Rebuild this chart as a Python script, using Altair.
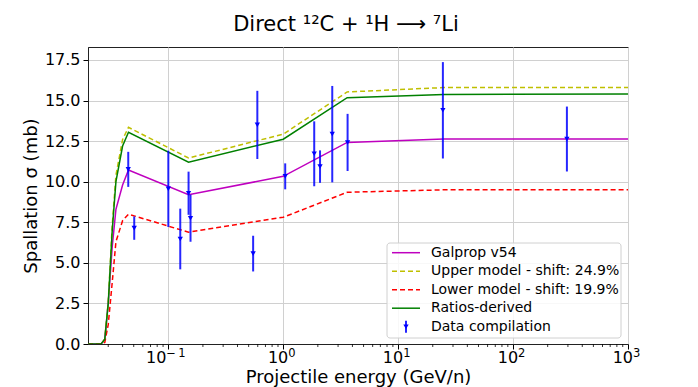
import altair as alt
import pandas as pd

# ---- data ----
E_model = [0.02, 0.026, 0.028, 0.030, 0.0325, 0.035, 0.04, 0.045, 0.15, 1.0, 3.6, 25, 1000]
galprop = [0, 0, 0.3, 2.5, 6.0, 8.3, 9.8, 10.72, 9.2, 10.33, 12.42, 12.63, 12.63]
upper   = [0, 0, 0.3, 2.6, 7.3, 10.4, 12.6, 13.35, 11.46, 12.93, 15.53, 15.8, 15.8]
lower   = [0, 0, 0.1, 1.2, 3.8, 6.3, 7.6, 8.0, 6.89, 7.81, 9.35, 9.5, 9.5]
ratios  = [0, 0, 0.3, 2.5, 7.0, 10.0, 12.2, 13.05, 11.2, 12.62, 15.18, 15.38, 15.4]

E_data = [0.0448, 0.0505, 0.100, 0.127, 0.150, 0.156, 0.547, 0.595, 1.04, 1.86, 2.09, 2.67, 3.63, 24.5, 294]
sigma  = [10.76, 7.14, 9.56, 6.47, 9.29, 7.75, 5.57, 13.5, 10.33, 11.72, 10.93, 12.93, 12.42, 14.4, 12.63]
err    = [1.08, 0.72, 2.35, 1.87, 1.33, 1.45, 1.1, 2.1, 0.8, 2.0, 1.0, 2.97, 1.76, 2.97, 2.0]

minor_ticks = [m * 10.0 ** d for d in range(-2, 3) for m in range(2, 10)]
x_ticks = [0.1, 1, 10, 100, 1000]
x_tick_base = ["10", "10", "10", "10", "10"]
x_tick_exp = ["\u2212\u20091", "0", "1", "2", "3"]
y_ticks = [0, 2.5, 5, 7.5, 10, 12.5, 15, 17.5]

legend_labels = ["Galprop v54", "Upper model - shift: 24.9%", "Lower model - shift: 19.9%",
                 "Ratios-derived", "Data compilation"]
series_colors = ["#bf00bf", "#bfbf00", "#ff0000", "#008000", "#0000ff"]

W, H = 540, 297
xscale = alt.Scale(type="log", domain=[0.02, 1000], nice=False)
yscale = alt.Scale(domain=[0, 18.3], nice=False)

xaxis = alt.Axis(values=x_ticks, labels=False, title="Projectile energy (GeV/n)",
                 grid=True, tickSize=5, titleFontSize=18,
                 titleBaseline="alphabetic", titleY=38.3)
yaxis = alt.Axis(values=y_ticks, format=".1f", title="Spallation \u03c3 (mb)",
                 grid=True, tickSize=5, labelFontSize=16, titleFontSize=18,
                 labelPadding=3, titleBaseline="alphabetic", titleX=-52)

models = [(galprop, series_colors[0], None),
          (upper, series_colors[1], [5, 3]),
          (lower, series_colors[2], [5, 3]),
          (ratios, series_colors[3], None)]

layers = []
# minor ticks on the log axis
minor_df = pd.DataFrame({"E": minor_ticks})
minor_df = minor_df[(minor_df.E > 0.02) & (minor_df.E < 1000)]
layers.append(alt.Chart(minor_df).mark_rule(color="black", strokeWidth=0.8).encode(
    x=alt.X("E:Q", scale=xscale, axis=xaxis), y=alt.value(H), y2=alt.value(H + 3)))

for vals, col, dash in models:
    df = pd.DataFrame({"E": E_model, "sigma": vals})
    kw = dict(color=col, strokeWidth=1.5, clip=True)
    if dash:
        kw["strokeDash"] = dash
    layers.append(alt.Chart(df).mark_line(**kw).encode(
        x=alt.X("E:Q", scale=xscale, axis=xaxis),
        y=alt.Y("sigma:Q", scale=yscale, axis=yaxis)))

ddf = pd.DataFrame({"E": E_data, "sigma": sigma, "err": err})
ddf["lo"] = ddf.sigma - ddf.err
ddf["hi"] = ddf.sigma + ddf.err
layers.append(alt.Chart(ddf).mark_rule(color="#0000ff", strokeWidth=2, opacity=0.85).encode(
    x=alt.X("E:Q", scale=xscale), y=alt.Y("lo:Q", scale=yscale), y2="hi:Q"))
layers.append(alt.Chart(ddf).mark_point(shape="triangle-down", filled=True, color="#0000ff",
                                        size=28, opacity=1).encode(
    x=alt.X("E:Q", scale=xscale), y=alt.Y("sigma:Q", scale=yscale)))

# ---- x tick labels as 10^n with real superscript sizing ----
for t, b, e in zip(x_ticks, x_tick_base, x_tick_exp):
    neg = e.startswith("\u2212")
    joint = -2 if neg else 5
    tdf = pd.DataFrame({"E": [t], "base": [b], "exp": [e]})
    layers.append(alt.Chart(tdf).mark_text(align="right", baseline="alphabetic", fontSize=16,
                                           color="black", dx=joint).encode(
        x=alt.X("E:Q", scale=xscale), y=alt.value(H + 18.7), text="base:N"))
    layers.append(alt.Chart(tdf).mark_text(align="left", baseline="alphabetic", fontSize=11.5,
                                           color="black", dx=joint).encode(
        x=alt.X("E:Q", scale=xscale), y=alt.value(H + 12.5), text="exp:N"))

# ---- legend (drawn manually) ----
dummy = pd.DataFrame({"a": [0]})
bx0, bx1, by0, by1 = 299, 533, 196, 291
layers.append(alt.Chart(dummy).mark_rect(fill="white", fillOpacity=0.85, stroke="#d0d0d0",
                                         strokeWidth=1, cornerRadius=3).encode(
    x=alt.value(bx0), x2=alt.value(bx1), y=alt.value(by0), y2=alt.value(by1)))
row_y = [205.7, 224.2, 242.7, 261.2, 279.7]
dashes = [None, [5, 3], [5, 3], None]
for i in range(4):
    kw = dict(color=series_colors[i], strokeWidth=1.5)
    if dashes[i]:
        kw["strokeDash"] = dashes[i]
    layers.append(alt.Chart(dummy).mark_rule(**kw).encode(
        x=alt.value(304), x2=alt.value(332), y=alt.value(row_y[i])))
layers.append(alt.Chart(dummy).mark_rule(color="#0000ff", strokeWidth=2, opacity=0.85).encode(
    x=alt.value(318), y=alt.value(row_y[4] - 6), y2=alt.value(row_y[4] + 6)))
layers.append(alt.Chart(dummy).mark_point(shape="triangle-down", filled=True, color="#0000ff",
                                          size=28, opacity=1).encode(
    x=alt.value(318), y=alt.value(row_y[4])))
for i, lab in enumerate(legend_labels):
    layers.append(alt.Chart(pd.DataFrame({"label": [lab]})).mark_text(
        align="left", baseline="middle", fontSize=14, color="black").encode(
        x=alt.value(343), y=alt.value(row_y[i]), text="label:N"))

chart = alt.layer(*layers).properties(
    width=W, height=H,
    title=alt.TitleParams("Direct \u00b9\u00b2C + \u00b9H \u27f6 \u2077Li", fontSize=21,
                          fontWeight="normal", anchor="middle", dx=-12, offset=12),
    autosize=alt.AutoSizeParams(type="none"),
    padding={"left": 80, "top": 39, "right": 62, "bottom": 43},
).configure(font="DejaVu Sans").configure_view(
    stroke="#222222", strokeWidth=1
).configure_axis(
    gridColor="#d0d0d0", gridWidth=1, tickColor="black", domainColor="#222222",
    labelColor="black", titleColor="black", titleFontWeight="normal"
)

chart.save("out.html", embed_options={"renderer": "svg", "actions": False})
